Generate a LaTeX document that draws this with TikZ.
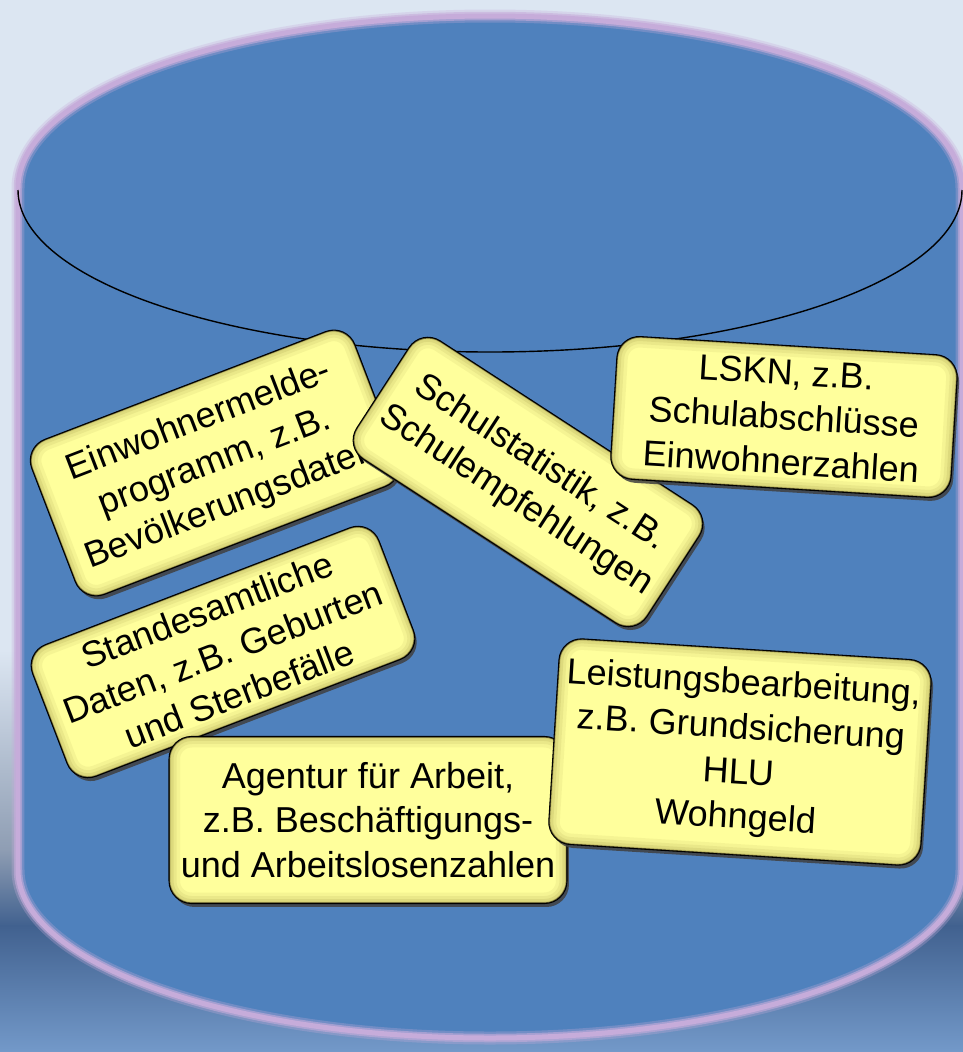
\documentclass[tikz,border=0pt]{standalone}
\usepackage{fontspec}
\setmainfont{Liberation Sans}
\usetikzlibrary{shadows}

\definecolor{bgtop}{HTML}{DCE6F2}
\definecolor{bgmid}{HTML}{8E9DB3}
\definecolor{bgdark}{HTML}{41618F}
\definecolor{bglow}{HTML}{7399C9}
\definecolor{cylblue}{HTML}{4F81BD}
\definecolor{rimlav}{HTML}{C6ACDA}
\definecolor{boxyellow}{HTML}{FFFF9C}
\definecolor{boxedge}{HTML}{B3AA55}

\newcommand{\srcfont}{\fontsize{20.5}{25.5}\selectfont}

% darker rim on the inside of a box
\newcommand{\boxglow}[1]{
    \begin{scope}
        \clip[rounded corners=0.45cm] (#1.north west) -- (#1.north east) -- (#1.south east) -- (#1.south west) -- cycle;
        \foreach \lw/\op in {0.44/0.12, 0.30/0.16, 0.18/0.22, 0.08/0.3}
            \draw[boxedge, line width=\lw cm, opacity=\op, rounded corners=0.45cm]
                (#1.north west) -- (#1.north east) -- (#1.south east) -- (#1.south west) -- cycle;
    \end{scope}
    \draw[line width=0.6pt, rounded corners=0.45cm]
        (#1.north west) -- (#1.north east) -- (#1.south east) -- (#1.south west) -- cycle;
}

\tikzset{
    srcbox/.style={draw=black, line width=0.6pt, fill=boxyellow,
        rounded corners=0.45cm, align=center, font=\srcfont, inner sep=0pt,
        drop shadow={shadow xshift=0.05cm, shadow yshift=-0.08cm, fill=black!75, opacity=0.85}}
}

\begin{document}
\begin{tikzpicture}[x=0.02cm, y=-0.02cm]

    \useasboundingbox (0,0) rectangle (963,1052);

    % Background
    \fill[bgtop] (0,0) rectangle (963,651);
    \shade[top color=bgtop, bottom color=bgmid] (0,650) rectangle (963,851);
    \shade[top color=bgmid, bottom color=bgdark] (0,850) rectangle (963,926);
    \shade[top color=bgdark, bottom color=bglow] (0,925) rectangle (963,1052);

    % Cylinder
    \fill[cylblue] (18,188) -- (18,870)
        arc[start angle=180, end angle=0, x radius=472, y radius=168]
        -- (962,188)
        arc[start angle=0, end angle=-180, x radius=472, y radius=172] -- cycle;
    \foreach \lw/\op in {0.26/0.3, 0.17/0.6, 0.1/1}
        \draw[rimlav, line width=\lw cm, opacity=\op] (18,188) -- (18,870)
            arc[start angle=180, end angle=0, x radius=472, y radius=168]
            -- (962,188)
            arc[start angle=0, end angle=-180, x radius=472, y radius=172] -- cycle;
    \draw[line width=0.8pt] (18,190) arc[start angle=180, end angle=0, x radius=472, y radius=162];

    % Data sources
    \node[srcbox, minimum width=6.9cm, minimum height=3.3cm, rotate=21] (einwohner) at (215,463)
        {Einwohnermelde-\\programm, z.B.\\Bevölkerungsdaten};
    \boxglow{einwohner}
    \node[srcbox, minimum width=6.9cm, minimum height=2.8cm, rotate=-33] (schule) at (528,482)
        {Schulstatistik, z.B.\\Schulempfehlungen};
    \boxglow{schule}
    \node[srcbox, minimum width=6.8cm, minimum height=2.84cm, rotate=-3.5] (lskn) at (784,417)
        {LSKN, z.B.\\Schulabschlüsse\\Einwohnerzahlen};
    \boxglow{lskn}
    \node[srcbox, minimum width=7.4cm, minimum height=2.8cm, rotate=21] (standesamt) at (223,652)
        {Standesamtliche\\Daten, z.B. Geburten\\und Sterbefälle};
    \boxglow{standesamt}
    \node[srcbox, minimum width=7.94cm, minimum height=3.32cm] (agentur) at (368,820)
        {Agentur für Arbeit,\\z.B. Beschäftigungs-\\und Arbeitslosenzahlen};
    \boxglow{agentur}
    \node[srcbox, minimum width=7.44cm, minimum height=4.1cm, rotate=-3.6] (leistung) at (740,752)
        {Leistungsbearbeitung,\\z.B. Grundsicherung\\HLU\\Wohngeld};
    \boxglow{leistung}

\end{tikzpicture}
\end{document}
